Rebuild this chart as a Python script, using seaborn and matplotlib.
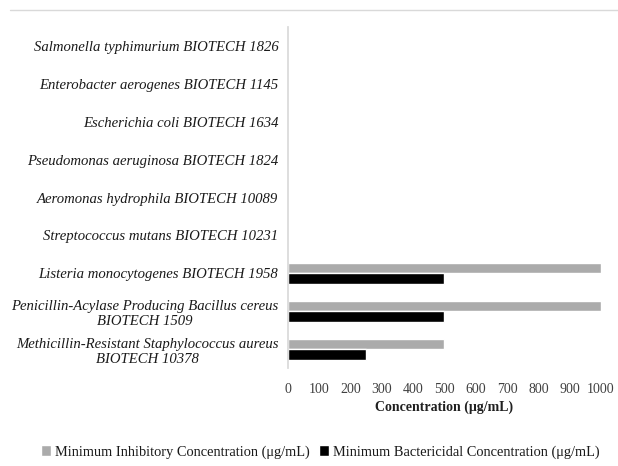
import pandas as pd
import matplotlib.pyplot as plt
import matplotlib.lines as mlines
import seaborn as sns

strains = [
    "Salmonella typhimurium BIOTECH 1826",
    "Enterobacter aerogenes BIOTECH 1145",
    "Escherichia coli BIOTECH 1634",
    "Pseudomonas aeruginosa BIOTECH 1824",
    "Aeromonas hydrophila BIOTECH 10089",
    "Streptococcus mutans BIOTECH 10231",
    "Listeria monocytogenes BIOTECH 1958",
    "Penicillin-Acylase Producing Bacillus cereus\nBIOTECH 1509",
    "Methicillin-Resistant Staphylococcus aureus\nBIOTECH 10378",
]
mic = [0, 0, 0, 0, 0, 0, 1000, 1000, 500]
mbc = [0, 0, 0, 0, 0, 0, 500, 500, 250]
series = ["Minimum Inhibitory Concentration (μg/mL)",
          "Minimum Bactericidal Concentration (μg/mL)"]
xticks = [0, 100, 200, 300, 400, 500, 600, 700, 800, 900, 1000]

SERIF = ["Liberation Serif", "DejaVu Serif"]


def main():
    df = pd.DataFrame({
        "Strain": strains * 2,
        "Value": mic + mbc,
        "Series": [series[0]] * len(strains) + [series[1]] * len(strains),
    })

    sns.set_theme(style="white")
    plt.rcParams["font.family"] = SERIF

    fig = plt.figure(figsize=(6.18, 4.66), dpi=100)
    ax = fig.add_axes([0.466, 0.210, 0.5065, 0.732])

    sns.barplot(data=df, y="Strain", x="Value", hue="Series", orient="h",
                palette=["#ababab", "#000000"], width=0.56, ax=ax,
                saturation=1, legend=True)

    ax.set_xlim(0, 1000)
    ax.set_xticks(xticks)
    ax.set_xticklabels([str(t) for t in xticks], fontsize=10, color="#404040")
    ax.set_ylabel("")
    ax.set_xlabel("Concentration (μg/mL)", fontsize=10, fontweight="bold",
                  color="#202020", labelpad=3)
    ax.tick_params(axis="both", length=0)
    ax.tick_params(axis="y", pad=7)
    ax.tick_params(axis="x", pad=11)
    for lab in ax.get_yticklabels():
        lab.set_fontstyle("italic")
        lab.set_fontsize(10.6)
        lab.set_multialignment("center")
        lab.set_color("#1a1a1a")

    for side in ["top", "right", "bottom"]:
        ax.spines[side].set_visible(False)
    ax.spines["left"].set_color("#d9d9d9")

    handles, labels = ax.get_legend_handles_labels()
    ax.get_legend().remove()
    fig.legend(handles, labels, loc="center", bbox_to_anchor=(0.518, 0.03),
               ncol=2, frameon=False, prop={"family": SERIF, "size": 10.4},
               handlelength=0.7, handleheight=0.7, handletextpad=0.3,
               columnspacing=0.6, labelcolor="#1a1a1a")

    # thin gray rule at the top of the image
    fig.add_artist(mlines.Line2D([0.016, 1.0], [0.979, 0.979],
                                 color="#d9d9d9", lw=1))

    fig.savefig("out.png", dpi=100)


if __name__ == "__main__":
    main()
